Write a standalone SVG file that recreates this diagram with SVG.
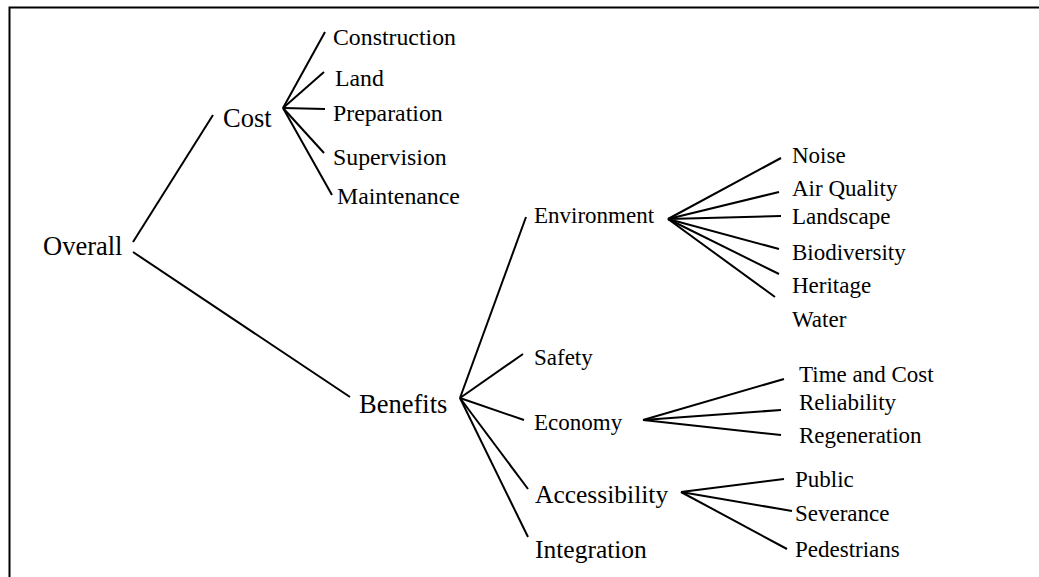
<svg xmlns="http://www.w3.org/2000/svg" width="1039" height="577" viewBox="0 0 1039 577">
<style>
text{fill:#000}
.l{font-size:26.5px}
.m{font-size:25.5px}
.s{font-size:23px}
.k{font-size:23.8px}
.c line{stroke:#000;stroke-width:2;stroke-linecap:butt}
.frame{fill:none;stroke:#000;stroke-width:2}
</style>
<rect width="1039" height="577" fill="#fff"/>
<path class="frame" d="M9.5,577 V7.5 H1039"/>
<g id="connectors" class="c">
<line x1="133" y1="242" x2="213" y2="115"/>
<line x1="133" y1="252" x2="350" y2="397"/>
<line x1="283" y1="108" x2="325" y2="32"/>
<line x1="283" y1="108" x2="324" y2="72"/>
<line x1="283" y1="108" x2="325" y2="109"/>
<line x1="283" y1="108" x2="324" y2="153"/>
<line x1="283" y1="108" x2="332" y2="195"/>
<line x1="460" y1="398" x2="526" y2="217"/>
<line x1="460" y1="398" x2="523" y2="354"/>
<line x1="460" y1="398" x2="524" y2="420"/>
<line x1="460" y1="398" x2="528" y2="489"/>
<line x1="460" y1="398" x2="528" y2="537"/>
<line x1="668" y1="219" x2="781" y2="158"/>
<line x1="668" y1="219" x2="779" y2="192"/>
<line x1="668" y1="219" x2="781" y2="216"/>
<line x1="668" y1="219" x2="779" y2="249"/>
<line x1="668" y1="219" x2="779" y2="274"/>
<line x1="668" y1="219" x2="775" y2="297"/>
<line x1="643" y1="420" x2="784" y2="379"/>
<line x1="643" y1="420" x2="781" y2="410"/>
<line x1="643" y1="420" x2="781" y2="435"/>
<line x1="681" y1="492" x2="784" y2="479"/>
<line x1="681" y1="492" x2="792" y2="511"/>
<line x1="681" y1="492" x2="787" y2="549"/>
</g>
<g font-family="Liberation Serif, Tinos, DejaVu Serif, serif">
<g id="overall"><text class="l" x="43" y="255">Overall</text></g>
<g id="cost"><text class="l" x="223" y="127">Cost</text></g>
<g id="construction"><text class="k" x="333" y="45">Construction</text></g>
<g id="land"><text class="k" x="335" y="86">Land</text></g>
<g id="preparation"><text class="k" x="333" y="121">Preparation</text></g>
<g id="supervision"><text class="k" x="333" y="165">Supervision</text></g>
<g id="maintenance"><text class="k" x="337" y="204">Maintenance</text></g>
<g id="benefits"><text class="l" x="359" y="413">Benefits</text></g>
<g id="environment"><text class="s" x="534" y="223">Environment</text></g>
<g id="safety"><text class="s" x="534" y="365">Safety</text></g>
<g id="economy"><text class="s" x="534" y="430">Economy</text></g>
<g id="accessibility"><text class="m" x="535" y="503">Accessibility</text></g>
<g id="integration"><text class="m" x="535" y="558">Integration</text></g>
<g id="noise"><text class="s" x="792" y="163">Noise</text></g>
<g id="airquality"><text class="s" x="792" y="196">Air Quality</text></g>
<g id="landscape"><text class="s" x="792" y="224">Landscape</text></g>
<g id="biodiversity"><text class="s" x="792" y="260">Biodiversity</text></g>
<g id="heritage"><text class="s" x="792" y="293">Heritage</text></g>
<g id="water"><text class="s" x="792" y="327">Water</text></g>
<g id="timecost"><text class="s" x="799" y="382">Time and Cost</text></g>
<g id="reliability"><text class="s" x="799" y="410">Reliability</text></g>
<g id="regeneration"><text class="s" x="799" y="443">Regeneration</text></g>
<g id="public"><text class="s" x="795" y="487">Public</text></g>
<g id="severance"><text class="s" x="795" y="521">Severance</text></g>
<g id="pedestrians"><text class="s" x="795" y="557">Pedestrians</text></g>
</g>
</svg>
